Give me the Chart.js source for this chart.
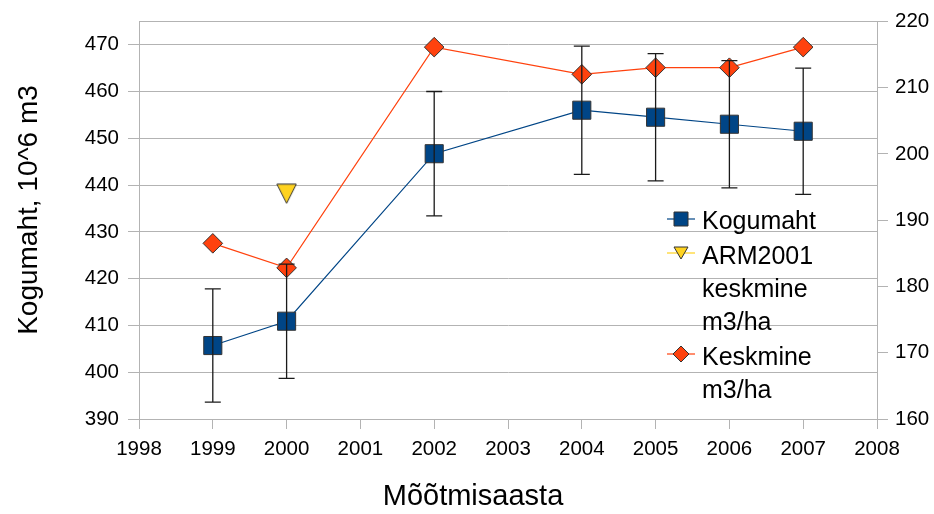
<!DOCTYPE html>
<html>
<head>
<meta charset="utf-8">
<script src="https://cdn.jsdelivr.net/npm/chart.js@4"></script>
<style>
  html, body { margin: 0; padding: 0; background: #fff; }
  #wrap { width: 934px; height: 514px; }
</style>
</head>
<body>
<div id="wrap"><canvas id="c" width="934" height="514"></canvas></div>
<script>
// ---- data ----
const years = [1999, 2000, 2002, 2004, 2005, 2006, 2007];
const kogumaht = [405.7, 410.9, 446.7, 456.0, 454.5, 453.0, 451.5];
const kogumahtError = [12.1, 12.2, 13.3, 13.7, 13.6, 13.6, 13.5];
const keskmine = [186.5, 182.8, 216.1, 212.0, 213.0, 213.0, 216.1];
const armYears = [2000];
const arm2001 = [194.0];
const seriesNames = ['Kogumaht', 'ARM2001 keskmine m3/ha', 'Keskmine m3/ha'];
const legendLines = [['Kogumaht'], ['ARM2001', 'keskmine', 'm3/ha'], ['Keskmine', 'm3/ha']];
const xTitle = 'Mõõtmisaasta';
const yTitle = 'Kogumaht, 10^6 m3';

const FONT = '"Liberation Sans", Arial, sans-serif';
const BLUE = '#004586', ORANGE = '#ff420e', YELLOW = '#ffd320';
const GRID = '#b3b3b3';

function triangleCanvas(size) {
  const cv = document.createElement('canvas');
  cv.width = size; cv.height = size;
  const c = cv.getContext('2d');
  c.beginPath();
  c.moveTo(0.8, 1); c.lineTo(size - 0.8, 1); c.lineTo(size / 2, size - 0.8);
  c.closePath();
  c.fillStyle = YELLOW; c.fill();
  c.strokeStyle = '#333'; c.lineWidth = 1; c.stroke();
  return cv;
}
const triBig = triangleCanvas(21);

const errorBars = {
  id: 'errorBars',
  afterDatasetsDraw(chart) {
    const ctx = chart.ctx, xs = chart.scales.x, ys = chart.scales.y;
    ctx.save();
    ctx.strokeStyle = '#1a1a1a';
    ctx.lineWidth = 1.3;
    for (let i = 0; i < years.length; i++) {
      const x = xs.getPixelForValue(years[i]);
      const yt = ys.getPixelForValue(kogumaht[i] + kogumahtError[i]);
      const yb = ys.getPixelForValue(kogumaht[i] - kogumahtError[i]);
      ctx.beginPath();
      ctx.moveTo(x, yt); ctx.lineTo(x, yb);
      ctx.moveTo(x - 8, yt); ctx.lineTo(x + 8, yt);
      ctx.moveTo(x - 8, yb); ctx.lineTo(x + 8, yb);
      ctx.stroke();
    }
    ctx.restore();
  }
};

const frameAndText = {
  id: 'frameAndText',
  beforeDatasetsDraw(chart) {
    const ctx = chart.ctx, a = chart.chartArea;
    ctx.save();
    ctx.strokeStyle = GRID; ctx.lineWidth = 1;
    ctx.beginPath();
    ctx.moveTo(a.left, Math.round(a.top) + 0.5);
    ctx.lineTo(a.right, Math.round(a.top) + 0.5);
    ctx.stroke();
    ctx.restore();
  },
  afterDraw(chart) {
    const ctx = chart.ctx;
    ctx.save();
    ctx.fillStyle = '#000';
    // axis titles
    ctx.textAlign = 'center'; ctx.textBaseline = 'middle';
    ctx.font = '29px ' + FONT;
    ctx.fillText(xTitle, 473, 497);
    ctx.font = '28px ' + FONT;
    ctx.translate(29, 210);
    ctx.rotate(-Math.PI / 2);
    ctx.fillText(yTitle, 0, 0);
    ctx.restore();

    // legend
    ctx.save();
    ctx.font = '25px ' + FONT;
    ctx.textAlign = 'left'; ctx.textBaseline = 'middle';
    ctx.fillStyle = '#000';
    const lx0 = 667, lx1 = 695, mx = 681, tx = 702;
    const entries = [
      { y: 219, lines: legendLines[0], color: BLUE, marker: 'square' },
      { y: 253, lines: legendLines[1], color: YELLOW, marker: 'tri' },
      { y: 354, lines: legendLines[2], color: ORANGE, marker: 'diamond' }
    ];
    const textY = [[222], [257, 290, 323], [358, 391]];
    entries.forEach((e, k) => {
      ctx.strokeStyle = e.color; ctx.lineWidth = 1.2;
      ctx.beginPath(); ctx.moveTo(lx0, e.y); ctx.lineTo(lx1, e.y); ctx.stroke();
      ctx.beginPath();
      if (e.marker === 'square') {
        ctx.rect(mx - 7, e.y - 7, 14, 14);
      } else if (e.marker === 'tri') {
        ctx.moveTo(mx - 7, e.y - 6); ctx.lineTo(mx + 7, e.y - 6); ctx.lineTo(mx, e.y + 6);
        ctx.closePath();
      } else {
        ctx.moveTo(mx - 8, e.y); ctx.lineTo(mx, e.y - 8); ctx.lineTo(mx + 8, e.y); ctx.lineTo(mx, e.y + 8);
        ctx.closePath();
      }
      ctx.fillStyle = e.color; ctx.fill();
      ctx.strokeStyle = '#333'; ctx.lineWidth = 1; ctx.stroke();
      ctx.fillStyle = '#000';
      e.lines.forEach((t, j) => ctx.fillText(t, tx, textY[k][j]));
    });
    ctx.restore();
  }
};

const ctx = document.getElementById('c').getContext('2d');
new Chart(ctx, {
  type: 'line',
  data: {
    datasets: [
      {
        label: seriesNames[0],
        data: years.map((x, i) => ({ x, y: kogumaht[i] })),
        yAxisID: 'y',
        borderColor: BLUE, borderWidth: 1.2,
        backgroundColor: BLUE,
        pointStyle: 'rect', pointRadius: 12.8, pointHoverRadius: 12.8,
        pointBorderColor: '#333', pointBorderWidth: 1,
        tension: 0, order: 2
      },
      {
        label: seriesNames[1],
        data: armYears.map((x, i) => ({ x, y: arm2001[i] })),
        yAxisID: 'y2',
        showLine: false,
        borderColor: YELLOW, backgroundColor: YELLOW,
        pointStyle: triBig, pointRadius: 10,
        order: 1
      },
      {
        label: seriesNames[2],
        data: years.map((x, i) => ({ x, y: keskmine[i] })),
        yAxisID: 'y2',
        borderColor: ORANGE, borderWidth: 1.2,
        backgroundColor: ORANGE,
        pointStyle: 'rectRot', pointRadius: 9.8, pointHoverRadius: 9.8,
        pointBorderColor: '#333', pointBorderWidth: 1,
        tension: 0, order: 0
      }
    ]
  },
  options: {
    responsive: false,
    animation: false,
    devicePixelRatio: 1,
    layout: { padding: { top: 20, left: 0, right: 0, bottom: 0 } },
    plugins: { legend: { display: false }, tooltip: { enabled: false } },
    scales: {
      x: {
        type: 'linear', position: 'bottom', min: 1998, max: 2008,
        ticks: { stepSize: 1, color: '#000', font: { family: FONT, size: 20.5 }, padding: 8,
                 callback: v => String(v) },
        grid: { drawOnChartArea: false, drawTicks: true, tickLength: 10, color: GRID, tickColor: GRID },
        border: { display: true, color: GRID },
        afterFit: s => { s.height = 95; }
      },
      y: {
        type: 'linear', position: 'left', min: 390, max: 475,
        afterBuildTicks: s => { s.ticks = s.ticks.filter(t => t.value % 10 === 0); },
        ticks: { stepSize: 10, color: '#000', font: { family: FONT, size: 20.5 }, padding: 9 },
        grid: { color: GRID, tickColor: GRID, tickLength: 11, lineWidth: 1 },
        border: { display: true, color: GRID },
        afterFit: s => { s.width = 139; }
      },
      y2: {
        type: 'linear', position: 'right', min: 160, max: 220,
        ticks: { stepSize: 10, color: '#000', font: { family: FONT, size: 20.5 }, padding: 7 },
        grid: { drawOnChartArea: false, color: GRID, tickColor: GRID, tickLength: 11 },
        border: { display: true, color: GRID },
        afterFit: s => { s.width = 57; }
      }
    }
  },
  plugins: [errorBars, frameAndText]
});
</script>
</body>
</html>
